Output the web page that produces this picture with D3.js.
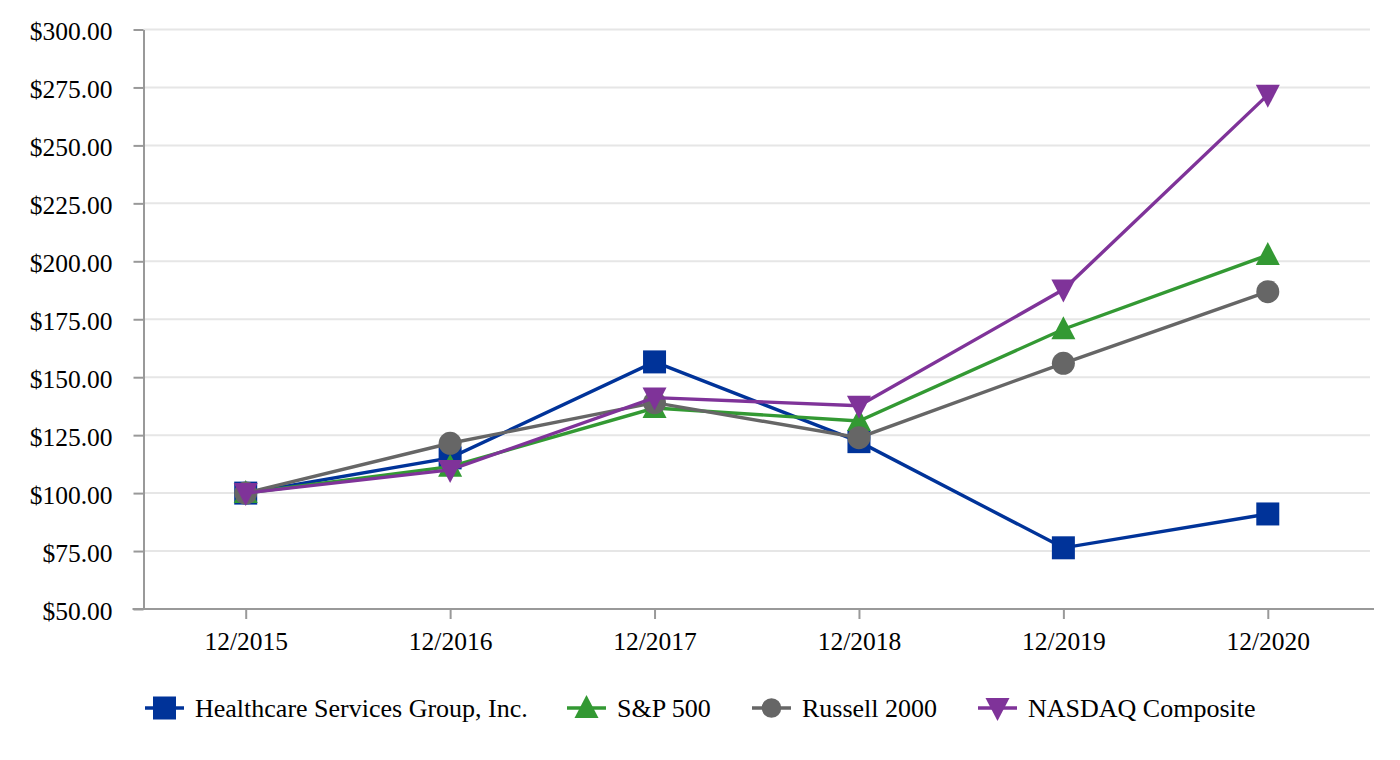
<!DOCTYPE html>
<html><head><meta charset="utf-8">
<script src="https://cdn.jsdelivr.net/npm/d3@7/dist/d3.min.js"></script>
<style>body{margin:0;background:#fff}svg{display:block}text{font-family:"Liberation Serif","Times New Roman",serif;fill:#000}</style>
</head><body><svg id="c" width="1400" height="760"></svg>
<script>
const categories = ["12/2015","12/2016","12/2017","12/2018","12/2019","12/2020"];
const seriesNames = ["Healthcare Services Group, Inc.","S&P 500","Russell 2000","NASDAQ Composite"];
const hcsg   = [100, 115.2, 156.6, 122.2, 76.4, 91.0];
const sp500  = [100, 111.4, 136.7, 131.1, 170.7, 202.7];
const russell= [100, 121.5, 139.0, 123.9, 156.0, 186.9];
const nasdaq = [100, 110.0, 141.2, 137.7, 187.8, 271.8];
const yTicks = [50,75,100,125,150,175,200,225,250,275,300];
const colors = ["#003399","#339933","#666666","#7f3399"];
const symbols = ["square","triangle","circle","triangleDown"];

const svg = d3.select("#c");
const pL=143.5, pR=1370, pT=29.5, pB=609;
const x = d3.scalePoint().domain(categories).range([pL,pR]).padding(0.5);
const y = d3.scaleLinear().domain([50,300]).range([pB,pT]);

// grid
svg.append("g").selectAll("line").data(yTicks.slice(1)).join("line")
  .attr("x1",pL).attr("x2",pR).attr("y1",d=>y(d)).attr("y2",d=>y(d))
  .attr("stroke","#e6e6e6").attr("stroke-width",2);

// y axis
const ya = svg.append("g").attr("transform",`translate(${pL},0)`)
  .call(d3.axisLeft(y).tickValues(yTicks).tickSize(10).tickSizeOuter(0).tickFormat(d=>"$"+d3.format(".2f")(d)));
ya.select(".domain").attr("stroke","#999").attr("stroke-width",2);
ya.selectAll(".tick line").attr("stroke","#999").attr("stroke-width",2);
ya.selectAll(".tick text").attr("x",-31).attr("dy","0.4em").style("font-size","25.5px").style("font-family","Liberation Serif").attr("fill","#000");

// x axis
const xa = svg.append("g").attr("transform",`translate(0,${pB})`)
  .call(d3.axisBottom(x).tickSize(10).tickSizeOuter(0));
xa.select(".domain").attr("stroke","#999").attr("stroke-width",2).attr("d",`M${pL-11},0H${pR+4}`);
xa.selectAll(".tick line").attr("stroke","#999").attr("stroke-width",2);
xa.selectAll(".tick text").attr("y",23).style("font-size","25.5px").style("font-family","Liberation Serif").attr("fill","#000");

function sym(g, type, cx, cy, color, s){
  s = s || 1;
  if(type==="square"){
    g.append("rect").attr("x",cx-11.5*s).attr("y",cy-11.5*s).attr("width",23*s).attr("height",23*s).attr("fill",color);
  } else if(type==="circle"){
    g.append("circle").attr("cx",cx).attr("cy",cy).attr("r",11.5*s).attr("fill",color);
  } else if(type==="triangle"){
    g.append("path").attr("d",`M${cx},${cy-13*s}L${cx+12*s},${cy+10*s}L${cx-12*s},${cy+10*s}Z`).attr("fill",color);
  } else {
    g.append("path").attr("d",`M${cx},${cy+13*s}L${cx+12*s},${cy-10*s}L${cx-12*s},${cy-10*s}Z`).attr("fill",color);
  }
}

const allSeries = [hcsg, sp500, russell, nasdaq];
const line = d3.line().x((d,i)=>x(categories[i])).y(d=>y(d));
allSeries.forEach((s,k)=>{
  const g = svg.append("g");
  g.append("path").attr("d",line(s)).attr("fill","none").attr("stroke",colors[k]).attr("stroke-width",3.4);
  s.forEach((v,i)=>sym(g, symbols[k], x(categories[i]), y(v), colors[k]));
});

// legend
const legX = [145, 567, 752, 978];
const legY = 708;
seriesNames.forEach((n,k)=>{
  const g = svg.append("g");
  g.append("line").attr("x1",legX[k]).attr("x2",legX[k]+39).attr("y1",legY).attr("y2",legY).attr("stroke",colors[k]).attr("stroke-width",3.4);
  sym(g, symbols[k], legX[k]+19.5, legY, colors[k], k===2 ? 0.85 : 1);
  g.append("text").attr("x",legX[k]+50).attr("y",legY).attr("dy","0.33em").style("font-size","26px").text(n);
});
</script></body></html>
